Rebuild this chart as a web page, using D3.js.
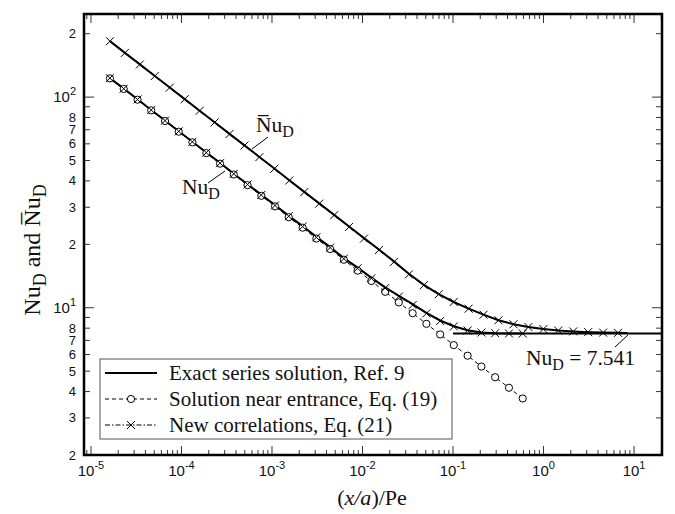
<!DOCTYPE html>
<html><head><meta charset="utf-8">
<script src="https://cdn.jsdelivr.net/npm/d3@7"></script>
<style>body{margin:0;background:#fff}</style>
</head><body>
<svg id="c" width="675" height="514" xmlns="http://www.w3.org/2000/svg"></svg>
<script>
// ---------- data ----------
const xLocal = [1.62e-5, 2.30e-5, 3.27e-5, 4.63e-5, 6.58e-5, 9.33e-5, 1.32e-4, 1.88e-4, 2.67e-4, 3.78e-4, 5.37e-4, 7.62e-4, 1.08e-3, 1.53e-3, 2.18e-3, 3.09e-3, 4.39e-3, 6.22e-3, 8.83e-3, 1.25e-2, 1.78e-2, 2.52e-2, 3.58e-2, 5.08e-2, 7.21e-2, 0.102, 0.145, 0.206, 0.292, 0.415, 0.589];
const nuEntrance = [122.7, 109.3, 97.2, 86.5, 77.0, 68.5, 61.0, 54.2, 48.3, 42.9, 38.2, 34.0, 30.3, 26.9, 24.0, 21.3, 19.0, 16.9, 15.0, 13.4, 11.9, 10.6, 9.42, 8.39, 7.47, 6.65, 5.92, 5.26, 4.68, 4.17, 3.71];
const nuExactLocal = [123.1, 109.7, 97.6, 86.9, 77.4, 68.9, 61.4, 54.6, 48.7, 43.3, 38.6, 34.4, 30.7, 27.3, 24.4, 21.7, 19.4, 17.2, 15.5, 13.9, 12.5, 11.4, 10.4, 9.45, 8.70, 8.17, 7.82, 7.64, 7.57, 7.55, 7.545];
const nuCorrLocal = [123.0, 109.6, 97.5, 86.8, 77.3, 68.8, 61.3, 54.5, 48.6, 43.2, 38.5, 34.3, 30.6, 27.2, 24.3, 21.6, 19.3, 17.1, 15.4, 13.8, 12.4, 11.3, 10.3, 9.40, 8.65, 8.15, 7.80, 7.63, 7.57, 7.55, 7.545];

const xMean = [1.622e-5, 2.372e-5, 3.469e-5, 5.073e-5, 7.42e-5, 1.085e-4, 1.587e-4, 2.321e-4, 3.395e-4, 4.965e-4, 7.261e-4, 1.062e-3, 1.553e-3, 2.272e-3, 3.322e-3, 4.859e-3, 7.106e-3, 1.039e-2, 1.520e-2, 2.223e-2, 3.251e-2, 4.754e-2, 6.953e-2, 0.1017, 0.1487, 0.2175, 0.3181, 0.4652, 0.6804, 0.9952, 1.455, 2.128, 3.113, 4.553, 6.658];
const nuCorrMean = [184.2, 162.1, 142.9, 125.9, 110.9, 97.7, 86.1, 75.8, 66.8, 58.9, 51.9, 45.7, 40.2, 35.4, 31.2, 27.5, 24.2, 21.3, 18.8, 16.5, 14.4, 12.8, 11.6, 10.65, 9.90, 9.27, 8.72, 8.35, 8.10, 7.92, 7.80, 7.72, 7.66, 7.62, 7.60];
const xExactMean = [1.622e-5, 2.372e-5, 3.469e-5, 5.073e-5, 7.42e-5, 1.085e-4, 1.587e-4, 2.321e-4, 3.395e-4, 4.965e-4, 7.261e-4, 1.062e-3, 1.553e-3, 2.272e-3, 3.322e-3, 4.859e-3, 7.106e-3, 1.039e-2, 1.520e-2, 2.223e-2, 3.251e-2, 4.754e-2, 6.953e-2, 0.1017, 0.1487, 0.2175, 0.3181, 0.4652, 0.6804, 0.9952, 1.455, 2.128, 3.113, 4.553, 6.658, 8.5];
const nuExactMean = [184.3, 162.2, 143.0, 126.0, 111.0, 97.8, 86.2, 75.9, 66.9, 59.0, 52.0, 45.8, 40.3, 35.5, 31.3, 27.6, 24.3, 21.4, 18.9, 16.6, 14.5, 12.85, 11.6, 10.65, 9.90, 9.27, 8.72, 8.35, 8.10, 7.92, 7.80, 7.72, 7.66, 7.62, 7.60, 7.585];

const xAsym = [0.1, 20];
const nuAsym = [7.541, 7.541];

const xMajorTicks = [1e-5, 1e-4, 1e-3, 1e-2, 1e-1, 1e0, 1e1];
const xMajorExp = ["-5", "-4", "-3", "-2", "-1", "0", "1"];
const yTickValues = [2, 3, 4, 5, 6, 7, 8, 10, 20, 30, 40, 50, 60, 70, 80, 100, 200];
const yTickText = ["2", "3", "4", "5", "6", "7", "8", "10|1", "2", "3", "4", "5", "6", "7", "8", "10|2", "2"];
const legendLabels = ["Exact series solution, Ref. 9", "Solution near entrance, Eq. (19)", "New correlations, Eq. (21)"];

// ---------- layout ----------
const L = 84, R = 662, T = 14, B = 455;
const svg = d3.select("#c");
const x = d3.scaleLog().domain([Math.pow(10, -5.077), Math.pow(10, 1.309)]).range([L, R]);
const y = d3.scaleLog().domain([2, 248]).range([B, T]);
const serif = "'Liberation Serif', 'Times New Roman', serif";
const sans = "'Liberation Sans', Arial, Helvetica, sans-serif";

const xd = x.domain(), yd = y.domain();
const xMinor = [];
for (let e = -6; e <= 1; e++) for (let m = 2; m <= 9; m++) { const v = m * Math.pow(10, e); if (v >= xd[0] && v < xd[1]) xMinor.push(v); }
const yMinor = [];
for (let e = 0; e <= 2; e++) for (let m = 2; m <= 9; m++) { const v = m * Math.pow(10, e); if (v >= yd[0] && v <= yd[1]) yMinor.push(v); }

const tg = svg.append("g").attr("stroke", "#333").attr("stroke-width", 1);
xMajorTicks.forEach(v => {
  tg.append("line").attr("x1", x(v)).attr("x2", x(v)).attr("y1", B).attr("y2", B - 9);
  tg.append("line").attr("x1", x(v)).attr("x2", x(v)).attr("y1", T).attr("y2", T + 9);
});
xMinor.forEach(v => {
  tg.append("line").attr("x1", x(v)).attr("x2", x(v)).attr("y1", B).attr("y2", B - 5);
  tg.append("line").attr("x1", x(v)).attr("x2", x(v)).attr("y1", T).attr("y2", T + 5);
});
[10, 100].forEach(v => {
  tg.append("line").attr("x1", L).attr("x2", L + 10).attr("y1", y(v)).attr("y2", y(v));
  tg.append("line").attr("x1", R).attr("x2", R - 10).attr("y1", y(v)).attr("y2", y(v));
});
yMinor.filter(v => v !== 10 && v !== 100).forEach(v => {
  tg.append("line").attr("x1", L).attr("x2", L + 6).attr("y1", y(v)).attr("y2", y(v));
  tg.append("line").attr("x1", R).attr("x2", R - 6).attr("y1", y(v)).attr("y2", y(v));
});

// x tick labels
xMajorTicks.forEach((v, i) => {
  const t = svg.append("text").attr("x", x(v)).attr("y", 476).attr("text-anchor", "middle")
    .attr("font-family", sans).attr("font-size", 15).attr("fill", "#111");
  t.append("tspan").text("10");
  t.append("tspan").attr("dy", -7).attr("font-size", 11).text(xMajorExp[i]);
});
// y tick labels
yTickValues.forEach((v, i) => {
  const s = yTickText[i];
  const t = svg.append("text").attr("x", 76).attr("y", y(v) + 4.5).attr("text-anchor", "end")
    .attr("font-family", sans).attr("font-size", 13).attr("fill", "#111");
  if (s.includes("|")) {
    const [b, e] = s.split("|");
    t.attr("font-size", 15).attr("y", y(v) + 5);
    t.append("tspan").text(b);
    t.append("tspan").attr("dy", -7).attr("font-size", 11).text(e);
  } else t.text(s);
});

// axis titles
const xt = svg.append("text").attr("x", 372).attr("y", 505).attr("text-anchor", "middle")
  .attr("font-family", serif).attr("font-size", 22).attr("fill", "#111");
xt.append("tspan").text("(");
xt.append("tspan").attr("font-style", "italic").text("x/a");
xt.append("tspan").text(")/Pe");

const yt = svg.append("text").attr("transform", "translate(40,250) rotate(-90)").attr("text-anchor", "middle")
  .attr("font-family", serif).attr("font-size", 24).attr("fill", "#111");
yt.append("tspan").text("Nu");
yt.append("tspan").attr("dy", 6).attr("font-size", 18).text("D");
yt.append("tspan").attr("dy", -6).text(" and ");
yt.append("tspan").text("N\u0305u");
yt.append("tspan").attr("dy", 6).attr("font-size", 18).text("D");

// clip
svg.append("clipPath").attr("id", "clip").append("rect").attr("x", L).attr("y", T).attr("width", R - L).attr("height", B - T);
const pg = svg.append("g").attr("clip-path", "url(#clip)");
const line = (xs, ys) => d3.line().x((d, i) => x(xs[i])).y((d, i) => y(ys[i]))(ys);

pg.append("path").attr("d", line(xLocal, nuExactLocal)).attr("fill", "none").attr("stroke", "#000").attr("stroke-width", 2);
pg.append("path").attr("d", line(xExactMean, nuExactMean)).attr("fill", "none").attr("stroke", "#000").attr("stroke-width", 2);
pg.append("path").attr("d", line(xAsym, nuAsym)).attr("fill", "none").attr("stroke", "#000").attr("stroke-width", 2);
pg.append("path").attr("d", line(xLocal, nuEntrance)).attr("fill", "none").attr("stroke", "#000").attr("stroke-width", 1).attr("stroke-dasharray", "4,3");
pg.append("path").attr("d", line(xLocal, nuCorrLocal)).attr("fill", "none").attr("stroke", "#000").attr("stroke-width", 1).attr("stroke-dasharray", "5,2,1.5,2");
pg.append("path").attr("d", line(xMean, nuCorrMean)).attr("fill", "none").attr("stroke", "#000").attr("stroke-width", 1).attr("stroke-dasharray", "5,2,1.5,2");

const circ = (g, cx, cy) => g.append("circle").attr("cx", cx).attr("cy", cy).attr("r", 3.6).attr("fill", "#fff").attr("stroke", "#000").attr("stroke-width", 1);
const cross = (g, cx, cy) => g.append("path").attr("d", `M${cx - 4},${cy - 4}L${cx + 4},${cy + 4}M${cx - 4},${cy + 4}L${cx + 4},${cy - 4}`).attr("stroke", "#000").attr("stroke-width", 1).attr("fill", "none");
xLocal.forEach((v, i) => circ(pg, x(v), y(nuEntrance[i])));
xLocal.forEach((v, i) => cross(pg, x(v), y(nuCorrLocal[i])));
xMean.forEach((v, i) => cross(pg, x(v), y(nuCorrMean[i])));

svg.append("rect").attr("x", L).attr("y", T).attr("width", R - L).attr("height", B - T)
  .attr("fill", "none").attr("stroke", "#000").attr("stroke-width", 2.5);

// annotations
const ann = (tx, ty, main, bar) => {
  const t = svg.append("text").attr("x", tx).attr("y", ty).attr("font-family", serif).attr("font-size", 21.5).attr("fill", "#111");
  t.append("tspan").text(bar ? "N\u0305u" : "Nu");
  t.append("tspan").attr("dy", 5).attr("font-size", 16).text("D");
  if (main) t.append("tspan").attr("dy", -5).text(main);
};
ann(256, 132, null, true);
svg.append("line").attr("x1", 268).attr("y1", 137).attr("x2", 252).attr("y2", 149).attr("stroke", "#000").attr("stroke-width", 1);
ann(182, 194, null, false);
svg.append("line").attr("x1", 225).attr("y1", 171).attr("x2", 208).attr("y2", 183).attr("stroke", "#000").attr("stroke-width", 1);
ann(526, 365, " = 7.541", false);
svg.append("line").attr("x1", 615).attr("y1", 347).attr("x2", 628).attr("y2", 335).attr("stroke", "#000").attr("stroke-width", 1);

// legend
const lg = svg.append("g");
lg.append("rect").attr("x", 100).attr("y", 359).attr("width", 352).attr("height", 80).attr("fill", "#fff").attr("stroke", "#555").attr("stroke-width", 1);
const rows = [373, 399, 425];
lg.append("line").attr("x1", 105).attr("x2", 157).attr("y1", rows[0]).attr("y2", rows[0]).attr("stroke", "#000").attr("stroke-width", 2);
lg.append("line").attr("x1", 105).attr("x2", 157).attr("y1", rows[1]).attr("y2", rows[1]).attr("stroke", "#000").attr("stroke-width", 1).attr("stroke-dasharray", "4,3");
circ(lg, 131, rows[1]);
lg.append("line").attr("x1", 105).attr("x2", 157).attr("y1", rows[2]).attr("y2", rows[2]).attr("stroke", "#000").attr("stroke-width", 1).attr("stroke-dasharray", "5,2,1.5,2");
cross(lg, 131, rows[2]);
legendLabels.forEach((s, i) => lg.append("text").attr("x", 169).attr("y", rows[i] + 7).attr("font-family", serif).attr("font-size", 21).attr("fill", "#111").text(s));
</script>
</body></html>
